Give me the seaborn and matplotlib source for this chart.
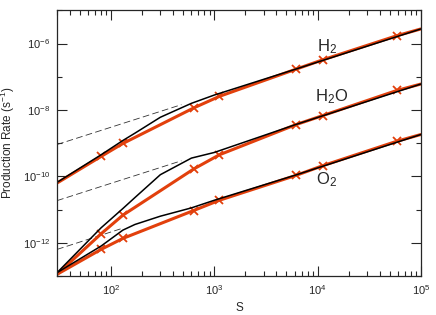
import numpy as np
import pandas as pd
import matplotlib
matplotlib.use("Agg")
import matplotlib.pyplot as plt
from matplotlib.ticker import FixedLocator, FuncFormatter, LogLocator, NullFormatter
import seaborn as sns

# model points (red, with x markers), log10 of production rate
s_model = [30, 80, 130, 630, 1120, 6200, 11200, 59000, 100000]
h2_model = [-10.2, -9.4, -9.01, -7.94, -7.59, -6.77, -6.49, -5.76, -5.56]
h2o_model = [-12.95, -11.73, -11.17, -9.78, -9.35, -8.44, -8.17, -7.41, -7.22]
o2_model = [-12.95, -12.2, -11.87, -11.03, -10.72, -9.97, -9.68, -8.94, -8.74]

# black curves
s_black = [30, 80, 130, 170, 300, 600, 1000, 6000, 100000]
h2_black = [-10.18, -9.35, -8.92, -8.7, -8.22, -7.8, -7.55, -6.78, -5.56]
h2o_black = [-12.9, -11.55, -10.97, -10.64, -9.95, -9.45, -9.28, -8.45, -7.22]
o2_black = [-12.9, -12.1, -11.62, -11.45, -11.2, -10.95, -10.72, -9.97, -8.74]

# dashed asymptotes (start/end)
h2_dash_s, h2_dash = [30, 480], [-9.04, -7.84]
h2o_dash_s, h2o_dash = [30, 480], [-10.73, -9.53]
o2_dash_s, o2_dash = [30, 130], [-12.2, -11.56]

labels = ["H$_2$", "H$_2$O", "O$_2$"]
label_pos = [(12300, 10**-6.09), (13800, 10**-7.59), (12300, 10**-10.1)]

red = "#e2400c"

sns.set_style("ticks")
plt.rcParams["font.family"] = ["Liberation Sans", "DejaVu Sans"]
plt.rcParams["mathtext.fontset"] = "custom"
plt.rcParams["mathtext.rm"] = "Liberation Sans"
plt.rcParams["mathtext.it"] = "Liberation Sans"

fig, ax = plt.subplots(figsize=(4.36, 3.15), dpi=100)
fig.subplots_adjust(left=0.131, right=0.965, top=0.967, bottom=0.124)

for s, y in [(h2_dash_s, h2_dash), (h2o_dash_s, h2o_dash), (o2_dash_s, o2_dash)]:
    ax.plot(s, 10 ** np.array(y), color="#333333", lw=0.6, dashes=(8, 4))

for y in [h2_model, h2o_model, o2_model]:
    df = pd.DataFrame({"S": s_model, "rate": 10 ** np.array(y)})
    sns.lineplot(data=df, x="S", y="rate", ax=ax, color=red, lw=2.2,
                 marker="x", markersize=6, markeredgewidth=1.3,
                 markeredgecolor=red, markevery=list(range(1, 8)))

for y in [h2_black, h2o_black, o2_black]:
    df = pd.DataFrame({"S": s_black, "rate": 10 ** np.array(y)})
    sns.lineplot(data=df, x="S", y="rate", ax=ax, color="black", lw=1.1)

for lab, (x, y) in zip(labels, label_pos):
    ax.text(x, y, lab, fontsize=12, ha="center", va="center")

ax.set_xscale("log")
ax.set_yscale("log")
ax.set_xlim(30, 1e5)
ax.set_ylim(1e-13, 1e-5)

ax.yaxis.set_major_locator(FixedLocator([1e-12, 1e-10, 1e-8, 1e-6]))
ax.yaxis.set_minor_locator(FixedLocator([1e-13, 1e-11, 1e-9, 1e-7, 1e-5]))
ax.yaxis.set_major_formatter(FuncFormatter(lambda v, p: "10$^{%d}$" % round(np.log10(v))))
ax.yaxis.set_minor_formatter(NullFormatter())
ax.xaxis.set_major_locator(LogLocator(base=10, numticks=10))
ax.xaxis.set_minor_locator(LogLocator(base=10, subs=np.arange(2, 10), numticks=10))
ax.xaxis.set_major_formatter(FuncFormatter(lambda v, p: "10$^{%d}$" % round(np.log10(v))))
ax.xaxis.set_minor_formatter(NullFormatter())

ax.tick_params(which="both", direction="in", top=True, right=True, labelsize=8, width=0.8)
ax.tick_params(which="major", length=7, pad=5)
ax.tick_params(which="minor", length=3.5)
for sp in ax.spines.values():
    sp.set_linewidth(0.9)

ax.set_xlabel("S", fontsize=8.5)
ax.set_ylabel("Production Rate (s$^{-1}$)", fontsize=8.5)

fig.savefig("out.png", dpi=100)
